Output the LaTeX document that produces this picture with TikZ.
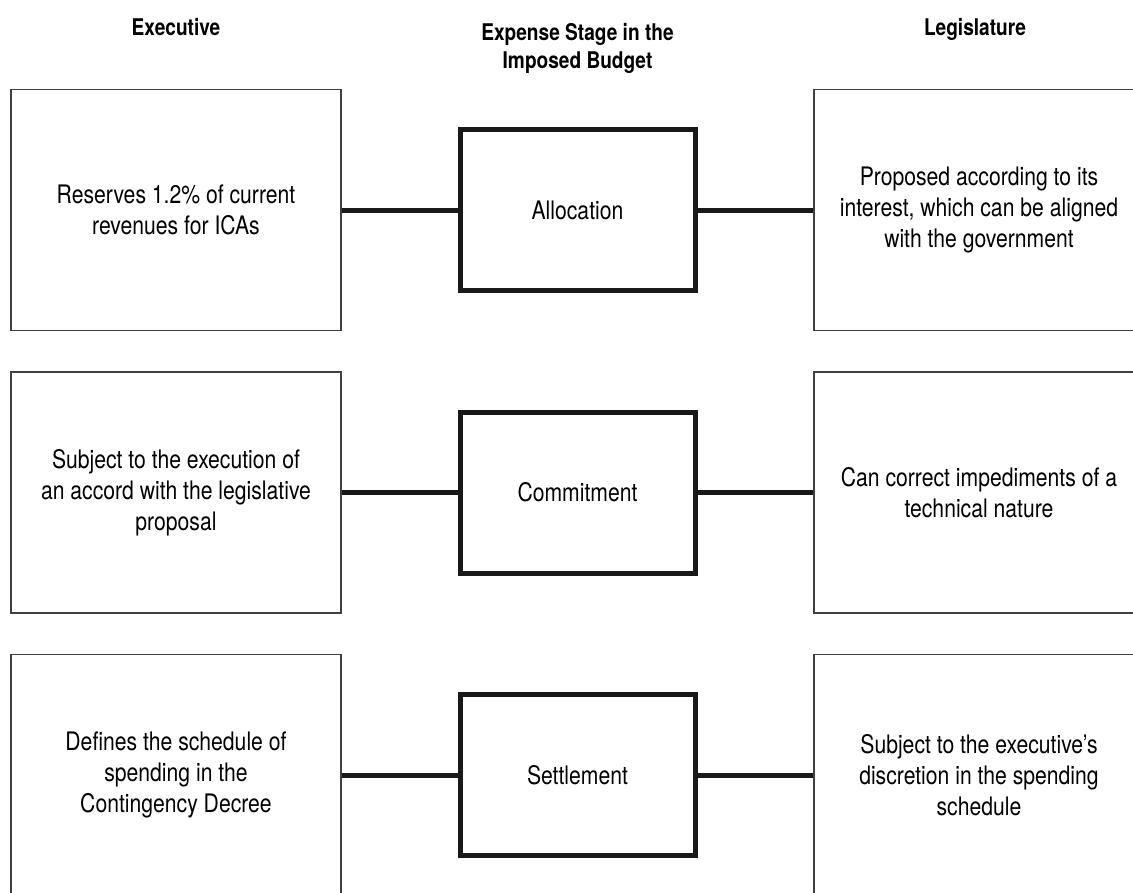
\documentclass[tikz,border=0pt]{standalone}
\usepackage{fontspec}
\setmainfont{TeX Gyre Heros}[FakeStretch=0.83]
\begin{document}
\begin{tikzpicture}[x=1pt,y=-1pt,
   side box/.style={draw=black!75,line width=1.5pt,minimum height=241pt,
      minimum width=330pt,align=center,inner sep=0pt,
      font=\fontsize{25.5}{31}\selectfont},
   stage box/.style={draw=black!90,line width=5pt,minimum width=235pt,
      minimum height=161pt,font=\fontsize{25.5}{31}\selectfont},
   head/.style={align=center,font=\fontsize{23}{27.7}\selectfont\bfseries},
   link/.style={draw=black!90,line width=5pt}]
\useasboundingbox (0,0) rectangle (1133,892);
% column heads
\node[head,anchor=base] (hexec) at (176,35) {Executive};
\node[head] (hstage) at (577.5,48.5) {Expense Stage in the\\Imposed Budget};
\node[head,anchor=base] (hlegis) at (975,35) {Legislature};
% allocation
\node[side box] (exec1) at (176,210) {Reserves 1.2\% of current\\revenues for ICAs};
\node[stage box] (stage1) at (577.5,210) {Allocation};
\node[side box] (legis1) at (979,210) {Proposed according to its\\interest, which can be aligned\\with the government};
% commitment
\node[side box] (exec2) at (176,492.5) {Subject to the execution of\\an accord with the legislative\\proposal};
\node[stage box] (stage2) at (577.5,492.5) {Commitment};
\node[side box] (legis2) at (979,492.5) {Can correct impediments of a\\technical nature};
% settlement
\node[side box] (exec3) at (176,775) {Defines the schedule of\\spending in the\\Contingency Decree};
\node[stage box] (stage3) at (577.5,775) {Settlement};
\node[side box] (legis3) at (979,775) {Subject to the executive’s\\discretion in the spending\\schedule};
\foreach \r in {1,2,3} {
   \draw[link] (exec\r) -- (stage\r);
   \draw[link] (stage\r) -- (legis\r);
}
\end{tikzpicture}
\end{document}
